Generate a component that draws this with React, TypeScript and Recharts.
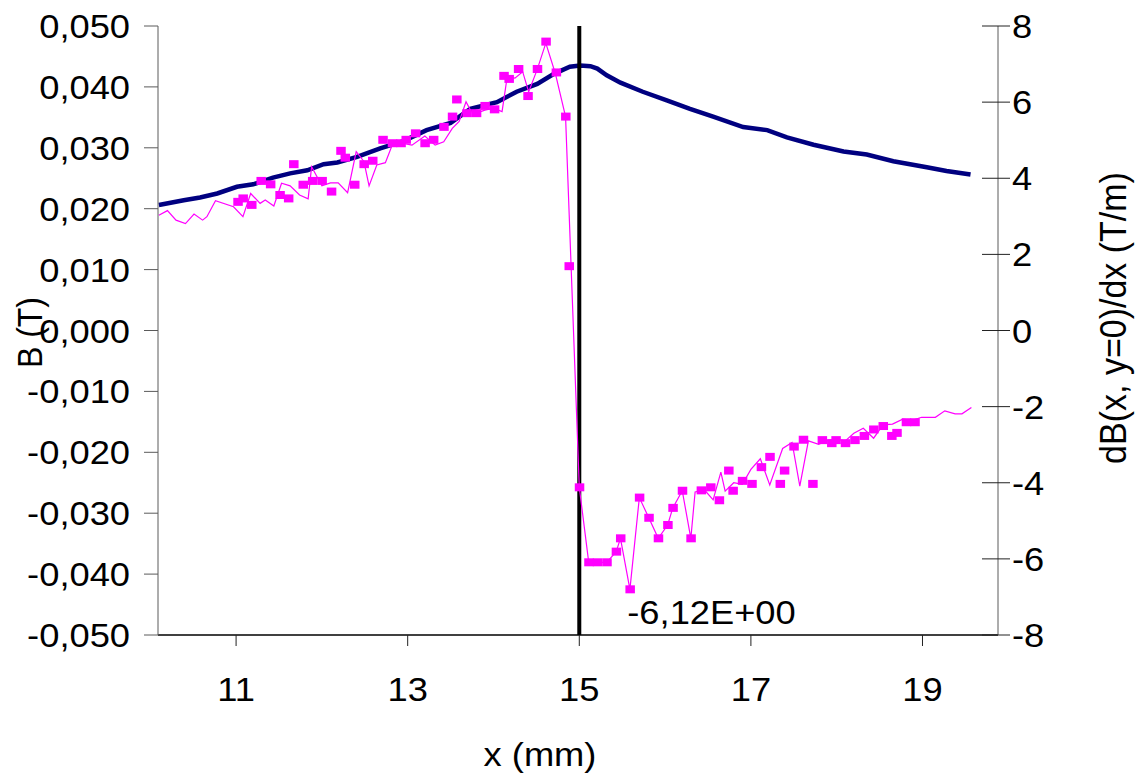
import React from 'react';
import { ComposedChart, Line, Scatter, XAxis, YAxis, ReferenceLine } from 'recharts';

// B (T) on the left axis
const bX = [10.10, 10.39, 10.58, 10.78, 11.01, 11.20, 11.43, 11.63, 11.83, 12.02, 12.18, 12.41, 12.68, 12.95, 13.22, 13.50, 13.73, 14.04, 14.27, 14.51, 14.70, 14.89, 15.01, 15.13, 15.21, 15.32, 15.48, 15.74, 16.02, 16.29, 16.56, 16.91, 17.19, 17.42, 17.73, 18.08, 18.35, 18.66, 19.05, 19.28, 19.56];
const bVal = [0.0206, 0.0214, 0.02185, 0.0225, 0.0236, 0.0240, 0.0251, 0.0258, 0.0263, 0.0273, 0.0276, 0.0285, 0.0299, 0.0311, 0.0329, 0.0341, 0.0364, 0.0375, 0.0392, 0.0405, 0.0421, 0.0433, 0.0435, 0.0434, 0.0430, 0.0419, 0.0407, 0.0392, 0.0378, 0.0364, 0.0351, 0.0334, 0.0329, 0.0317, 0.0305, 0.0294, 0.0289, 0.0278, 0.0268, 0.0262, 0.0256];

// dB/dx thin line (right axis)
const dX = [10.10, 10.20, 10.30, 10.41, 10.51, 10.61, 10.66, 10.76, 10.97, 11.08, 11.17, 11.28, 11.34, 11.44, 11.53, 11.63, 11.74, 11.84, 11.88, 12.00, 12.10, 12.19, 12.30, 12.40, 12.49, 12.55, 12.64, 12.74, 12.82, 12.93, 13.05, 13.20, 13.32, 13.42, 13.52, 13.60, 13.68, 13.74, 13.81, 13.90, 14.00, 14.10, 14.16, 14.25, 14.34, 14.41, 14.51, 14.61, 14.72, 14.84, 15.00, 15.11, 15.21, 15.32, 15.43, 15.48, 15.59, 15.70, 15.81, 15.92, 16.03, 16.09, 16.20, 16.30, 16.35, 16.46, 16.56, 16.65, 16.70, 16.80, 16.90, 17.00, 17.11, 17.22, 17.37, 17.48, 17.57, 17.67, 17.79, 17.90, 18.00, 18.10, 18.20, 18.31, 18.43, 18.54, 18.65, 18.77, 18.88, 18.99, 19.15, 19.26, 19.38, 19.46, 19.57];
const dVal = [3.03, 3.15, 2.90, 2.81, 3.06, 2.90, 2.99, 3.41, 3.25, 2.99, 3.60, 3.34, 3.43, 3.27, 3.87, 3.80, 3.56, 3.46, 4.30, 3.80, 3.88, 3.88, 3.62, 4.70, 4.44, 3.80, 4.35, 4.41, 4.87, 4.92, 4.87, 5.11, 4.87, 4.96, 5.31, 5.49, 6.01, 5.75, 5.72, 5.79, 5.84, 5.75, 6.67, 6.63, 6.80, 6.27, 6.86, 7.55, 6.76, 5.62, -4.12, -6.09, -6.09, -6.09, -5.81, -5.46, -6.80, -4.39, -4.92, -5.46, -5.11, -4.66, -4.21, -5.46, -4.24, -4.19, -4.45, -3.72, -4.22, -4.00, -4.04, -3.65, -3.37, -4.06, -3.10, -2.94, -4.09, -2.90, -2.99, -2.88, -2.86, -2.90, -2.70, -2.57, -2.83, -2.48, -2.46, -2.33, -2.36, -2.28, -2.28, -2.11, -2.19, -2.19, -2.02];

// dB/dx square markers (right axis)
const mX = [11.02, 11.08, 11.18, 11.29, 11.40, 11.51, 11.61, 11.67, 11.78, 11.89, 12.00, 12.11, 12.22, 12.27, 12.38, 12.49, 12.59, 12.71, 12.82, 12.92, 12.98, 13.09, 13.20, 13.30, 13.42, 13.52, 13.57, 13.69, 13.80, 13.90, 14.01, 14.12, 14.18, 14.29, 14.40, 14.51, 14.61, 14.73, 14.84, 14.88, 15.00, 15.11, 15.21, 15.32, 15.43, 15.48, 15.59, 15.70, 15.81, 15.92, 16.03, 16.09, 16.20, 16.30, 16.42, 16.53, 16.63, 16.74, 16.79, 16.90, 17.01, 17.12, 17.22, 17.34, 17.39, 17.50, 17.61, 17.72, 17.83, 17.94, 17.99, 18.10, 18.21, 18.32, 18.43, 18.54, 18.64, 18.70, 18.81, 18.91];
const mVal = [3.38, 3.47, 3.30, 3.93, 3.84, 3.56, 3.47, 4.37, 3.83, 3.93, 3.93, 3.65, 4.72, 4.54, 3.83, 4.37, 4.46, 5.01, 4.92, 4.92, 5.01, 5.18, 4.92, 5.01, 5.35, 5.62, 6.07, 5.71, 5.71, 5.90, 5.81, 6.69, 6.61, 6.87, 6.16, 6.87, 7.59, 6.78, 5.62, 1.69, -4.12, -6.09, -6.09, -6.09, -5.81, -5.46, -6.80, -4.39, -4.92, -5.46, -5.11, -4.66, -4.21, -5.46, -4.20, -4.12, -4.46, -3.68, -4.21, -3.95, -4.03, -3.59, -3.32, -4.03, -3.68, -3.05, -2.87, -4.03, -2.88, -2.96, -2.88, -2.96, -2.88, -2.77, -2.60, -2.51, -2.77, -2.69, -2.41, -2.41];

const xTicks = [11, 13, 15, 17, 19];
const leftTicks = [-0.05, -0.04, -0.03, -0.02, -0.01, 0, 0.01, 0.02, 0.03, 0.04, 0.05];
const rightTicks = [-8, -6, -4, -2, 0, 2, 4, 6, 8];
const xDomain = [10.09, 19.88];
const cursorX = 15;
const cursorLabel = '-6,12E+00';
const xTitle = 'x (mm)';
const leftTitle = 'B (T)';
const rightTitle = 'dB(x, y=0)/dx (T/m)';

const bData = bX.map((x, i) => ({ x, y: bVal[i] }));
const dData = dX.map((x, i) => ({ x, y: dVal[i] }));
const mData = mX.map((x, i) => ({ x, y: mVal[i] }));

const FONT = '"Liberation Sans", Arial, Helvetica, sans-serif';
const FS = 33;
const SX = 1.1;
const AXIS_GRAY = '#5a5a5a';

const fmtLeft = (v: number) => (Math.abs(v) < 1e-9 ? 0 : v).toFixed(3).replace('.', ',');

const LeftTick = (props: any) => {
  const { x, y, payload } = props;
  return (
    <g>
      <line x1={x - 14} x2={x} y1={y} y2={y} stroke={AXIS_GRAY} strokeWidth={1} />
      <g transform={`translate(${x - 28},${y + 12}) scale(${SX},1)`}>
        <text x={0} y={0} textAnchor="end" fontSize={FS} fontFamily={FONT} fill="#000">
          {fmtLeft(payload.value)}
        </text>
      </g>
    </g>
  );
};

const RightTick = (props: any) => {
  const { x, y, payload } = props;
  return (
    <g>
      <line x1={x - 16} x2={x + 12} y1={y} y2={y} stroke="#222" strokeWidth={1} />
      <g transform={`translate(${x + 14},${y + 12}) scale(${SX},1)`}>
        <text x={0} y={0} textAnchor="start" fontSize={FS} fontFamily={FONT} fill="#000">
          {String(payload.value)}
        </text>
      </g>
    </g>
  );
};

const BottomTick = (props: any) => {
  const { x, y, payload } = props;
  return (
    <g>
      <line x1={x} x2={x} y1={y} y2={y + 11} stroke="#222" strokeWidth={1} />
      <g transform={`translate(${x},${y + 66}) scale(${SX},1)`}>
        <text x={0} y={0} textAnchor="middle" fontSize={FS} fontFamily={FONT} fill="#000">
          {String(payload.value)}
        </text>
      </g>
    </g>
  );
};

const Square = (props: any) => {
  const { cx, cy } = props;
  if (cx == null || cy == null) return null;
  return <rect x={cx - 4.5} y={cy - 4} width={9.5} height={8} fill="#FF00FF" />;
};

const xTitleContent = (p: any) => {
  const vb = p.viewBox;
  return (
    <g transform={`translate(${vb.x + 382},${vb.y + 131}) scale(${SX},1)`}>
      <text x={0} y={0} textAnchor="middle" fontSize={FS} fontFamily={FONT} fill="#000">{xTitle}</text>
    </g>
  );
};

const leftTitleContent = (p: any) => {
  const vb = p.viewBox;
  return (
    <g transform={`translate(${vb.x + 30},${vb.y + vb.height / 2 + 2}) scale(${SX},1) rotate(-90)`}>
      <text x={0} y={0} textAnchor="middle" dominantBaseline="central" fontSize={32} fontFamily={FONT} fill="#000">{leftTitle}</text>
    </g>
  );
};

const rightTitleContent = (p: any) => {
  const vb = p.viewBox;
  return (
    <g transform={`translate(${vb.x + 115},${vb.y + 292}) scale(${SX},1) rotate(-90)`}>
      <text x={0} y={0} textAnchor="middle" dominantBaseline="central" fontSize={34} fontFamily={FONT} fill="#000">{rightTitle}</text>
    </g>
  );
};

const cursorLabelContent = (p: any) => {
  const vb = p.viewBox;
  return (
    <g transform={`translate(${vb.x + 48},${vb.y + vb.height - 11}) scale(${SX},1)`}>
      <text x={0} y={0} textAnchor="start" fontSize={FS} fontFamily={FONT} fill="#000">{cursorLabel}</text>
    </g>
  );
};

export default function App() {
  return (
    <div style={{ position: 'absolute', left: 0, top: 0, width: 1142, height: 775, background: '#fff' }}>
      <ComposedChart width={1142} height={775} margin={{ top: 26, right: 0, bottom: 0, left: 0 }}>
        <XAxis
          type="number"
          dataKey="x"
          domain={xDomain}
          allowDataOverflow
          ticks={xTicks}
          interval={0}
          height={140}
          tickSize={0}
          tickMargin={0}
          tickLine={false}
          tick={<BottomTick />}
          axisLine={{ stroke: '#000', strokeWidth: 1.5 }}
          label={xTitleContent}
        />
        <YAxis
          yAxisId="left"
          orientation="left"
          type="number"
          domain={[-0.05, 0.05]}
          ticks={leftTicks}
          interval={0}
          width={158}
          tickSize={0}
          tickMargin={0}
          tickLine={false}
          tick={<LeftTick />}
          axisLine={{ stroke: AXIS_GRAY, strokeWidth: 1 }}
          label={leftTitleContent}
        />
        <YAxis
          yAxisId="right"
          orientation="right"
          type="number"
          domain={[-8, 8]}
          ticks={rightTicks}
          interval={0}
          width={144}
          tickSize={0}
          tickMargin={0}
          tickLine={false}
          tick={<RightTick />}
          axisLine={{ stroke: AXIS_GRAY, strokeWidth: 1 }}
          label={rightTitleContent}
        />
        <Line
          yAxisId="left"
          data={bData}
          dataKey="y"
          type="linear"
          stroke="#000080"
          strokeWidth={4.5}
          dot={false}
          activeDot={false}
          isAnimationActive={false}
        />
        <ReferenceLine
          yAxisId="left"
          x={cursorX}
          stroke="#000"
          strokeWidth={4}
          label={cursorLabelContent}
        />
        <Line
          yAxisId="right"
          data={dData}
          dataKey="y"
          type="linear"
          stroke="#FF00FF"
          strokeWidth={1.2}
          dot={false}
          activeDot={false}
          isAnimationActive={false}
        />
        <Scatter
          yAxisId="right"
          data={mData}
          dataKey="y"
          fill="#FF00FF"
          shape={Square}
          isAnimationActive={false}
        />
      </ComposedChart>
    </div>
  );
}
